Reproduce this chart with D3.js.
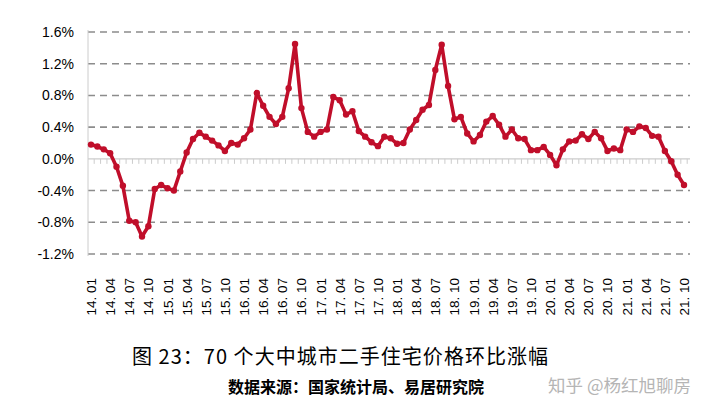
<!DOCTYPE html><html><head><meta charset="utf-8"><script src="https://cdn.jsdelivr.net/npm/d3@7"></script>
<style>body{margin:0;background:#fff}</style></head><body><svg id="c" width="720" height="416"></svg><script>
const values=[0.18,0.155,0.12,0.07,-0.1,-0.34,-0.78,-0.80,-0.98,-0.85,-0.38,-0.33,-0.37,-0.40,-0.16,0.08,0.25,0.33,0.28,0.23,0.17,0.10,0.20,0.18,0.26,0.37,0.83,0.67,0.53,0.44,0.53,0.89,1.45,0.64,0.34,0.28,0.34,0.37,0.78,0.74,0.56,0.60,0.35,0.28,0.21,0.16,0.28,0.26,0.19,0.20,0.37,0.49,0.62,0.68,1.12,1.44,0.92,0.50,0.53,0.32,0.22,0.30,0.47,0.54,0.43,0.28,0.37,0.26,0.25,0.11,0.11,0.15,0.05,-0.08,0.12,0.22,0.23,0.31,0.25,0.34,0.26,0.10,0.13,0.11,0.37,0.34,0.41,0.39,0.29,0.28,0.10,-0.03,-0.20,-0.33];
const yTicks=[1.6,1.2,0.8,0.4,0,-0.4,-0.8,-1.2];
const months=values.map((v,i)=>{const y=14+Math.floor(i/12),m=i%12+1;return y+". "+String(m).padStart(2,"0");});
const title="图 23：70 个大中城市二手住宅价格环比涨幅";
const source="数据来源：国家统计局、易居研究院";
const watermark="知乎 @杨红旭聊房";
const svg=d3.select("#c");
const x=d3.scaleLinear().domain([0,values.length-1]).range([91,684]);
const y=d3.scaleLinear().domain([-1.2,1.6]).range([254,32]);
const f="'Liberation Sans',Arial,sans-serif";
svg.append("g").selectAll("line").data(yTicks.filter(d=>d!==0)).join("line")
 .attr("x1",88).attr("x2",690).attr("y1",d=>y(d)).attr("y2",d=>y(d))
 .attr("stroke","#8c8c8c").attr("stroke-width",1.6).attr("stroke-dasharray","7,5");
svg.append("line").attr("x1",88).attr("x2",88).attr("y1",30).attr("y2",256).attr("stroke","#ccc");
svg.append("line").attr("x1",88).attr("x2",690).attr("y1",y(0)).attr("y2",y(0)).attr("stroke","#ccc").attr("stroke-width",1.2);
svg.append("g").selectAll("line").data(values).join("line")
 .attr("x1",(d,i)=>x(i)+3.2).attr("x2",(d,i)=>x(i)+3.2).attr("y1",y(0)).attr("y2",y(0)+5).attr("stroke","#ccc");
svg.append("g").selectAll("text").data(yTicks).join("text")
 .attr("x",74).attr("y",d=>y(d)+5).attr("text-anchor","end").attr("font-family",f).attr("font-size",14)
 .text(d=>d.toFixed(1)+"%");
svg.append("g").selectAll("text").data(months.filter((d,i)=>i%3===0)).join("text")
 .attr("transform",(d,i)=>`translate(${x(i*3)+5},278) rotate(-90)`).attr("text-anchor","end")
 .attr("font-family",f).attr("font-size",13.5).text(d=>d);
svg.append("path").datum(values).attr("fill","none").attr("stroke","#c00e2a").attr("stroke-width",3.6)
 .attr("stroke-linejoin","round").attr("d",d3.line().x((d,i)=>x(i)).y(d=>y(d)));
svg.append("g").selectAll("circle").data(values).join("circle")
 .attr("cx",(d,i)=>x(i)).attr("cy",d=>y(d)).attr("r",3.2).attr("fill","#c00e2a");
svg.append("text").attr("x",132).attr("y",364).attr("font-family","'Noto Sans CJK SC',sans-serif").attr("font-size",20).attr("textLength",416).text(title);
svg.append("text").attr("x",228).attr("y",393).attr("font-family","'Noto Sans CJK SC',sans-serif").attr("font-weight","bold").attr("font-size",16).text(source);
svg.append("text").attr("x",548).attr("y",392).attr("font-family","'Noto Sans CJK SC',sans-serif").attr("font-size",17.5).attr("fill","#b5b5b5").text(watermark);
</script></body></html>
